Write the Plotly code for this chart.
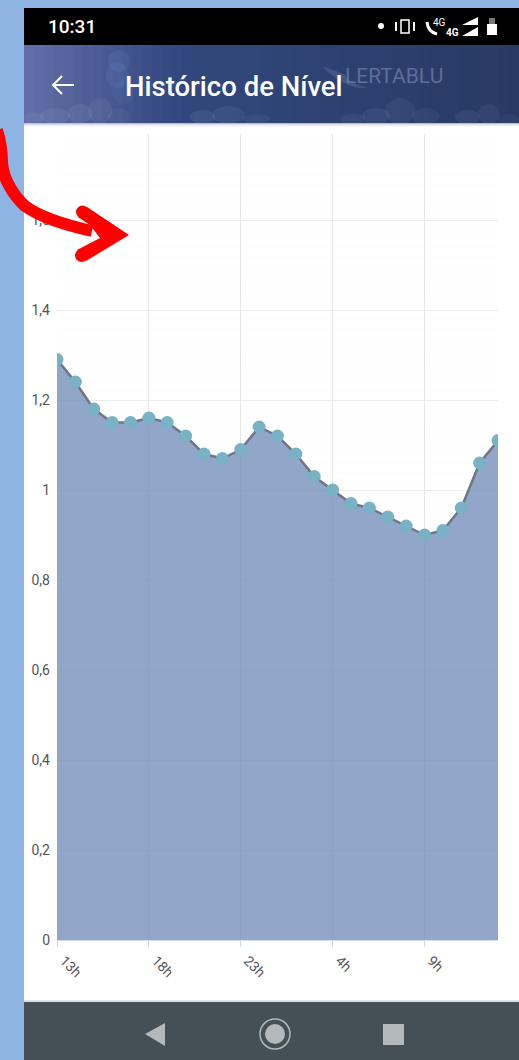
import plotly.graph_objects as go

W, H = 519, 1060
L, R, T, B = 57, 498, 134, 940

hours = list(range(25))
levels = [1.29, 1.24, 1.18, 1.15, 1.15, 1.16, 1.15, 1.12, 1.08, 1.07, 1.09, 1.14, 1.12,
          1.08, 1.03, 1.00, 0.97, 0.96, 0.94, 0.92, 0.90, 0.91, 0.96, 1.06, 1.11]
x_tick_vals = [0, 5, 10, 15, 20]
x_tick_text = ["13h", "18h", "23h", "4h", "9h"]
y_tick_vals = [0, 0.2, 0.4, 0.6, 0.8, 1.0, 1.2, 1.4, 1.6]
y_tick_text = ["0", "0,2", "0,4", "0,6", "0,8", "1", "1,2", "1,4", "1,6"]


def px(x):
    return (x - L) / (R - L)


def py(y):
    return (B - y) / (B - T)


def rect(x0, y0, x1, y1, color, layer="below", opacity=1, line=None):
    return dict(type="rect", xref="paper", yref="paper", x0=px(x0), x1=px(x1), y0=py(y0), y1=py(y1),
                fillcolor=color, line=line or dict(width=0), layer=layer, opacity=opacity)


def oval(x0, y0, x1, y1, color, opacity=1, layer="below", line=None):
    return dict(type="circle", xref="paper", yref="paper", x0=px(x0), x1=px(x1), y0=py(y0), y1=py(y1),
                fillcolor=color, line=line or dict(width=0), layer=layer, opacity=opacity)


def path(points, **kw):
    d = ""
    for p in points:
        d += p[0] + " "
        vals = p[1:]
        for i in range(0, len(vals), 2):
            d += f"{px(vals[i]):.5f},{py(vals[i + 1]):.5f} "
    return dict(type="path", xref="paper", yref="paper", path=d + ("Z" if kw.pop("closed", False) else ""), **kw)


def mix(a, b, t):
    return "rgb(" + ",".join(str(round(a[i] + (b[i] - a[i]) * t)) for i in range(3)) + ")"


shapes = [rect(24, 8, 519, 1060, "#ffffff"), rect(24, 8, 519, 45, "#000000")]
# header band: horizontal gradient
n = 50
for i in range(n):
    x0 = 24 + (519 - 24) * i / n
    x1 = 24 + (519 - 24) * (i + 1) / n + 1
    t = i / (n - 1)
    a = (98, 110, 168)
    b = (50, 72, 126)
    c = (40, 58, 100)
    col = mix(a, b, t / 0.3) if t < 0.3 else mix(b, c, (t - 0.3) / 0.7)
    shapes.append(rect(x0, 45, x1, 124, col))
clouds = [(108, 50, 130, 72, "#7090d0", .16), (106, 62, 128, 88, "#7090d0", .16),
          (112, 80, 135, 104, "#7090d0", .10),
          (24, 112, 44, 124, "#8b9cc4", .17), (40, 108, 70, 124, "#8b9cc4", .17),
          (68, 104, 92, 124, "#8b9cc4", .17), (88, 98, 112, 124, "#8b9cc4", .15),
          (108, 108, 130, 124, "#8b9cc4", .10), (190, 110, 215, 124, "#8b9cc4", .15),
          (212, 106, 245, 124, "#8b9cc4", .12), (243, 114, 270, 124, "#8b9cc4", .10),
          (340, 114, 365, 124, "#7c90bc", .12), (362, 108, 390, 124, "#7c90bc", .14),
          (385, 98, 415, 124, "#7c90bc", .12), (412, 108, 440, 124, "#7c90bc", .10),
          (455, 110, 480, 124, "#8598c0", .12), (478, 104, 500, 124, "#8598c0", .10),
          (498, 114, 519, 124, "#8598c0", .08)]
for e in clouds:
    shapes.append(oval(*e[:4], e[4], opacity=e[5]))
# watermark swoosh
shapes.append(path([("M", 322, 66), ("Q", 345, 90, 368, 88), ("Q", 350, 84, 344, 74)], closed=True,
                   fillcolor="#5f719c", opacity=.45, line_width=0))
# shadow under the header
for i, c in enumerate(["#bfc1c6", "#dcdcdf", "#efeff0", "#f9f9f9"]):
    shapes.append(rect(24, 123 + i, 519, 124 + i, c))
# bottom navigation bar
shapes.append(rect(24, 1000, 519, 1002, "#dfe2e3"))
shapes.append(rect(24, 1002, 519, 1060, "#454f56"))
shapes.append(path([("M", 145, 1034), ("L", 165, 1023), ("L", 165, 1046)], closed=True, fillcolor="#b3b8ba", line_width=0))
shapes.append(oval(260, 1019, 290, 1049, "rgba(0,0,0,0)", line=dict(color="#b3b8ba", width=1.5)))
shapes.append(oval(265, 1024, 285, 1044, "#b3b8ba"))
shapes.append(rect(383, 1024, 404, 1045, "#b3b8ba"))
# back arrow
shapes.append(path([("M", 74, 85), ("L", 53, 85), ("M", 62, 76), ("L", 53, 85), ("L", 62, 94)],
                   line=dict(color="#ffffff", width=2), layer="above"))
# status bar icons
shapes.append(oval(378, 23, 384, 29, "#ffffff", layer="above"))
shapes.append(rect(401, 20, 409, 33, "rgba(0,0,0,0)", layer="above", line=dict(color="#ffffff", width=1.5)))
shapes.append(rect(395, 22, 397, 31, "#ffffff", layer="above"))
shapes.append(rect(413, 22, 415, 31, "#ffffff", layer="above"))
shapes.append(path([("M", 478, 17), ("L", 478, 25), ("L", 462, 25)], closed=True, fillcolor="#ffffff", line_width=0))
shapes.append(path([("M", 478, 27), ("L", 478, 36), ("L", 462, 36)], closed=True, fillcolor="#ffffff", line_width=0))
shapes.append(rect(487, 24, 497, 35, "#ffffff", layer="above"))
shapes.append(rect(489, 18, 495, 24, "#777777", layer="above"))
shapes.append(path([("M", 427, 22), ("Q", 428, 32, 437, 34)], line=dict(color="#ffffff", width=3), layer="above"))
# red annotation arrow
shapes.append(path([("M", -3, 130), ("C", 0, 140, 2, 150, 2, 162), ("C", 3, 180, 15, 197, 25, 206),
                    ("C", 40, 217, 65, 225, 92, 231)],
                   line=dict(color="#ff0000", width=12), layer="above"))
shapes.append(path([("M", 129, 235), ("L", 87, 207), ("L", 78, 217), ("L", 90, 225), ("L", 100, 238),
                    ("L", 77, 250), ("L", 86, 261)], closed=True,
                   fillcolor="#ff0000", line_width=0, layer="above"))
shapes.append(oval(76, 205.5, 89, 218.5, "#ff0000", layer="above"))
shapes.append(oval(75, 249, 88, 262, "#ff0000", layer="above"))


def text(x, y, s, size, color="#ffffff", anchor="left", family="Roboto", opacity=1, weight=None):
    font = dict(family=family, size=size, color=color)
    if weight:
        font["weight"] = weight
    return dict(xref="paper", yref="paper", x=px(x), y=py(y), text=s, showarrow=False, xanchor=anchor,
                yanchor="middle", font=font, opacity=opacity)


annotations = [
    text(46, 27, "10:31", 19, weight=500),
    text(343, 76, "LERTABLU", 21, color="#6a7aa2", opacity=.8),
    text(123, 86, "Histórico de Nível", 27.5, weight=500),
    text(431, 22, "4G", 10),
    text(444, 32, "4G", 10, weight=700),
]

fig = go.Figure()
fig.add_trace(go.Scatter(
    x=hours, y=levels, mode="lines+markers", fill="tozeroy",
    fillcolor="rgba(118,144,186,0.8)",
    line=dict(color="#6f7686", width=2.5),
    marker=dict(color="#78b2c4", size=13, line_width=0),
    hoverinfo="skip", showlegend=False,
))
fig.update_layout(
    width=W, height=H, autosize=False,
    margin=dict(l=L, r=W - R, t=T, b=H - B, pad=0),
    paper_bgcolor="#8eb4e3", plot_bgcolor="rgba(0,0,0,0)",
    shapes=shapes, annotations=annotations,
    font=dict(family="Roboto", size=12, color="#555555"),
)
fig.update_xaxes(range=[0, 24], tickmode="array", tickvals=x_tick_vals, ticktext=x_tick_text,
                 tickangle=45, ticks="outside", ticklen=6, tickcolor="#d5d8dc", ticklabelshift=7,
                 showgrid=True, gridcolor="#e6e6e6", gridwidth=1, zeroline=False,
                 showline=True, linecolor="#d5dae4", tickfont=dict(size=14, color="#555555"))
fig.update_yaxes(range=[0, (B - T) / 450], tickmode="array", tickvals=y_tick_vals, ticktext=y_tick_text,
                 ticks="", showgrid=True, gridcolor="#ececec", gridwidth=1, zeroline=False, ticklabelstandoff=6,
                 minor=dict(dtick=0.02, showgrid=True, gridcolor="#fcfcfc", ticks=""),
                 tickfont=dict(size=14, color="#555555"))
fig.write_html("out.html", config=dict(displayModeBar=False),
               post_script="document.body.style.margin='0';document.documentElement.style.overflow='hidden';")
